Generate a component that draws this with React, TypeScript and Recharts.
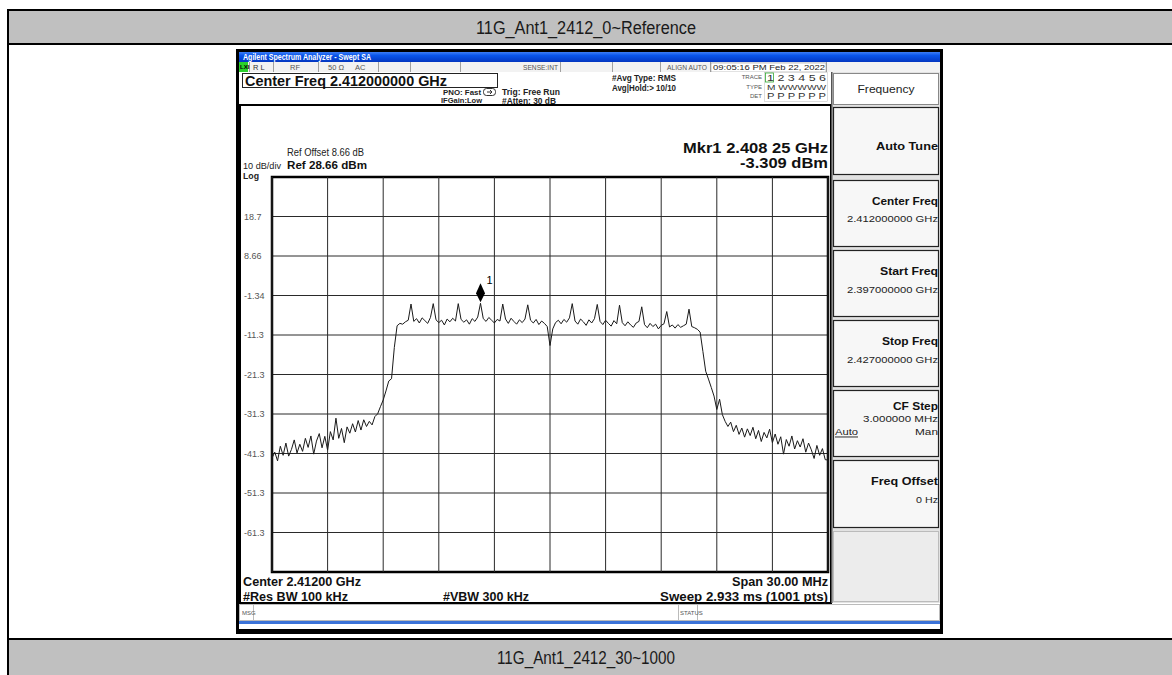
import React from 'react';
import { LineChart, Line, XAxis, YAxis, CartesianGrid, ReferenceDot, ReferenceArea, ReferenceLine } from 'recharts';

const sweepStartMHz = 2397;
const sweepStepMHz = 0.15;

const traceDbm = [
  -42.5, -41.0, -43.2, -39.5, -41.8, -38.7, -42.0, -40.3, -37.9, -41.2,
  -39.0, -40.8, -37.5, -39.8, -36.9, -41.5, -38.2, -36.3, -39.9, -37.0,
  -40.5, -35.8, -37.9, -32.4, -37.5, -35.0, -38.6, -34.6, -36.2, -33.8,
  -35.9, -33.0, -35.4, -32.8, -34.5, -33.2, -34.1, -32.0, -31.3, -29.5,
  -27.8, -25.5, -23.0, -22.4, -14.5, -9.0, -8.4, -8.6, -8.0, -7.6,
  -3.5, -7.9, -7.2, -8.3, -7.0, -7.7, -8.4, -6.9, -3.4, -7.5,
  -8.2, -7.6, -8.8, -7.3, -8.0, -7.1, -7.8, -3.4, -7.4, -8.1,
  -7.5, -8.6, -7.2, -7.9, -6.8, -3.309, -7.2, -7.9, -6.9, -7.6,
  -8.3, -7.4, -7.8, -3.5, -7.3, -8.4, -7.1, -7.9, -8.6, -7.5,
  -8.2, -7.3, -3.7, -7.6, -8.3, -7.4, -8.7, -7.8, -8.4, -9.2,
  -14.0, -9.8, -8.2, -7.6, -8.5, -7.4, -8.1, -7.0, -3.4, -7.8,
  -8.6, -7.3, -8.0, -8.9, -7.5, -8.3, -7.2, -3.6, -7.9, -8.7,
  -7.6, -8.4, -9.1, -7.7, -8.5, -3.8, -8.2, -9.0, -8.0, -8.8,
  -9.4, -8.3, -7.9, -4.2, -8.7, -9.5, -8.4, -9.2, -8.6, -9.8,
  -8.9, -8.5, -5.4, -9.3, -8.8, -9.6, -8.7, -9.4, -9.0, -8.6,
  -4.8, -9.2, -9.5, -9.9, -10.6, -15.5, -20.5, -22.5, -24.6, -26.8,
  -30.2, -27.6, -31.5, -33.2, -34.5, -33.4, -35.8, -34.2, -36.5, -34.9,
  -37.2, -35.1, -36.8, -34.7, -37.6, -35.5, -38.3, -36.0, -37.4, -35.2,
  -38.6, -36.4, -39.0, -37.1, -41.5, -37.8, -39.5, -36.9, -40.2, -38.1,
  -39.7, -37.6, -41.0, -38.7, -40.4, -42.6, -39.3, -41.8, -40.1, -42.9,
  -43.0,
];

const xTicksMHz = [2397, 2400, 2403, 2406, 2409, 2412, 2415, 2418, 2421, 2424, 2427];
const yTicksDbm = [28.66, 18.66, 8.66, -1.34, -11.34, -21.34, -31.34, -41.34, -51.34, -61.34, -71.34];
const yTickLabels = ['', '18.7', '8.66', '-1.34', '-11.3', '-21.3', '-31.3', '-41.3', '-51.3', '-61.3', ''];
const markerFreqMHz = 2408.25;
const markerDbm = -3.309;

const chartData = traceDbm.map((v, i) => ({
  f: Math.round((sweepStartMHz + i * sweepStepMHz) * 100) / 100,
  v,
}));

const FONT = '"Liberation Sans", Arial, Helvetica, sans-serif';

type TP = {
  x: number; y: number; s: number; w?: number; b?: boolean;
  a?: 'start' | 'middle' | 'end'; c?: string; u?: boolean; children: React.ReactNode;
};
const Tx = ({ x, y, s, w, b, a = 'start', c = '#111', u, children }: TP) => (
  <text
    x={x}
    y={y}
    fontSize={s}
    fontWeight={b ? 'bold' : 'normal'}
    textAnchor={a}
    fill={c}
    dominantBaseline="central"
    textLength={w}
    lengthAdjust={w ? 'spacingAndGlyphs' : undefined}
    textDecoration={u ? 'underline' : undefined}
    fontFamily={FONT}
  >
    {children}
  </text>
);

const YTick = (props: any) => {
  const { y, payload } = props;
  const idx = yTicksDbm.indexOf(payload.value);
  const label = idx >= 0 ? yTickLabels[idx] : '';
  return (
    <text x={4} y={y} dominantBaseline="central" fontSize={9} fill="#555" fontFamily={FONT}>
      {label}
    </text>
  );
};

const MarkerShape = (p: any) => {
  const { cx, cy } = p;
  if (cx == null || cy == null) return null;
  return (
    <g>
      <path d={`M${cx},${cy - 20} L${cx + 4.5},${cy - 10} L${cx},${cy - 1} L${cx - 4.5},${cy - 10} Z`} fill="#000" stroke="none" />
      <text x={cx + 6} y={cy - 19} fontSize={11} fill="#000" stroke="none" fontFamily={FONT}>1</text>
    </g>
  );
};

const buttons = [
  { top: 107, h: 67 },
  { top: 180, h: 66 },
  { top: 250, h: 66 },
  { top: 320, h: 66 },
  { top: 390, h: 66 },
  { top: 460, h: 67 },
];

const Frame = () => (
  <svg width={1172} height={675} style={{ position: 'absolute', left: 0, top: 0 }}>
    <defs>
      <linearGradient id="tb" x1="0" y1="0" x2="0" y2="1">
        <stop offset="0" stopColor="#3d7df5" />
        <stop offset="0.35" stopColor="#0a55ea" />
        <stop offset="1" stopColor="#0336c0" />
      </linearGradient>
    </defs>
    <rect x={0} y={0} width={1172} height={675} fill="#fff" />
    {/* table */}
    <rect x={9} y={11} width={1163} height={33} fill="#c0c0c0" />
    <rect x={7} y={9} width={1165} height={2} fill="#000" />
    <rect x={7} y={43} width={1165} height={2} fill="#000" />
    <rect x={7} y={9} width={2} height={666} fill="#000" />
    <rect x={9} y={640} width={1163} height={35} fill="#c0c0c0" />
    <rect x={7} y={638} width={1165} height={2} fill="#000" />

    {/* window */}
    <rect x={236} y={49} width={707} height={585} fill="#000" />
    <rect x={239} y={52} width={701} height={10} fill="url(#tb)" />
    <rect x={239} y={62} width={701} height={10} fill="#f2f2f2" />
    {[249, 273, 318, 378, 410, 460, 560, 612, 660, 710, 826].map((x) => (
      <rect key={x} x={x} y={62} width={1} height={10} fill="#a0a0a0" />
    ))}
    <rect x={239} y={62} width={9} height={10} fill="#2bd02b" />
    <rect x={711} y={63} width={115} height={9} fill="#fff" stroke="#888" strokeWidth={0.5} />
    <rect x={239} y={72} width={701} height={548} fill="#fff" />
    {/* center freq box */}
    <rect x={242.5} y={73.5} width={255} height={14} fill="#fff" stroke="#222" strokeWidth={1} />
    {/* trace box */}
    <rect x={764.5} y={72.5} width={63} height={29} fill="#fff" stroke="#bbb" strokeWidth={0.5} />
    <rect x={765.5} y={73} width={8} height={9} fill="none" stroke="#3a3" strokeWidth={0.8} />
    {/* PNO icon */}
    <rect x={483.5} y={88.5} width={12} height={7} rx={3} fill="none" stroke="#333" strokeWidth={1} />
    <path d="M487,92 L492,92 M490,90 L492,92 L490,94" stroke="#333" strokeWidth={1} fill="none" />
    {/* display */}
    <rect x={240} y={105} width={591} height={498} fill="#fff" stroke="#000" strokeWidth={2} />
    {/* right panel */}
    <rect x={831} y={72} width={109} height={531} fill="#e2e2e2" />
    <rect x={831} y={72} width={1.5} height={531} fill="#555" />
    <rect x={833.5} y={73.5} width={105} height={31} fill="#fff" stroke="#888" strokeWidth={1} />
    {buttons.map((b, i) => (
      <rect key={i} x={833.5} y={b.top + 0.5} width={105} height={b.h} fill="#f7f7f7" stroke="#222" strokeWidth={1.2} />
    ))}
    <rect x={833.5} y={531.5} width={105} height={70} fill="#ececec" stroke="#bbb" strokeWidth={1} />
    {/* msg row */}
    <rect x={239.5} y={604.5} width={700} height={16} fill="#fff" stroke="#bbb" strokeWidth={1} />
    <rect x={253} y={605} width={1} height={15} fill="#bbb" />
    <rect x={678} y={605} width={1} height={15} fill="#bbb" />
    <rect x={697} y={605} width={1} height={15} fill="#bbb" />
    <rect x={239} y={621} width={701} height={3} fill="#3b73d8" />
    <rect x={239} y={624} width={701} height={5} fill="#fff" />

    {/* header texts */}
    <Tx x={586} y={28} s={18} w={220} a="middle" c="#1a1a1a">11G_Ant1_2412_0~Reference</Tx>
    <Tx x={586} y={658} s={18} w={178} a="middle" c="#1a1a1a">11G_Ant1_2412_30~1000</Tx>

    {/* title bar */}
    <Tx x={243} y={57} s={8.5} w={128} b c="#fff">Agilent Spectrum Analyzer - Swept SA</Tx>

    {/* status row */}
    <Tx x={240} y={67} s={6} b c="#000">LXI</Tx>
    <Tx x={253} y={67} s={7.5} c="#333">R L</Tx>
    <Tx x={290} y={67} s={7.5} c="#555">RF</Tx>
    <Tx x={328} y={67} s={7.5} c="#555">50 Ω</Tx>
    <Tx x={355} y={67} s={7.5} c="#555">AC</Tx>
    <Tx x={523} y={67} s={7.5} w={35} c="#555">SENSE:INT</Tx>
    <Tx x={667} y={67} s={7.5} w={40} c="#555">ALIGN AUTO</Tx>
    <Tx x={713} y={67.5} s={8} w={112} c="#222">09:05:16 PM Feb 22, 2022</Tx>

    {/* info area */}
    <Tx x={245} y={81} s={14.5} w={202} b c="#111">Center Freq 2.412000000 GHz</Tx>
    <Tx x={443} y={92} s={8} w={38} b c="#222">PNO: Fast</Tx>
    <Tx x={441} y={100} s={8} w={41} b c="#222">IFGain:Low</Tx>
    <Tx x={502} y={92} s={9} w={58} b c="#222">Trig: Free Run</Tx>
    <Tx x={502} y={100.5} s={8.5} w={54} b c="#222">#Atten: 30 dB</Tx>
    <Tx x={612} y={78} s={9} w={64} b c="#222">#Avg Type: RMS</Tx>
    <Tx x={612} y={88} s={9} w={64} b c="#222">Avg|Hold:&gt; 10/10</Tx>
    <Tx x={762} y={77} s={6} a="end" c="#555">TRACE</Tx>
    <Tx x={767} y={77.5} s={8.5} w={59} c="#333">1 2 3 4 5 6</Tx>
    <Tx x={762} y={87} s={6} a="end" c="#555">TYPE</Tx>
    <Tx x={767} y={87} s={8} w={59} c="#333">M WWWWW</Tx>
    <Tx x={762} y={96} s={6} a="end" c="#555">DET</Tx>
    <Tx x={767} y={96} s={8.5} w={59} c="#333">P P P P P P</Tx>

    {/* display texts */}
    <Tx x={287} y={152} s={10} w={77} c="#222">Ref Offset 8.66 dB</Tx>
    <Tx x={287} y={165} s={11.5} w={80} b c="#111">Ref 28.66 dBm</Tx>
    <Tx x={243} y={166} s={9} w={38} c="#222">10 dB/div</Tx>
    <Tx x={243} y={175.5} s={9} w={16} b c="#222">Log</Tx>
    <Tx x={828} y={147} s={15} w={145} a="end" b c="#111">Mkr1 2.408 25 GHz</Tx>
    <Tx x={828} y={162} s={15} w={88} a="end" b c="#111">-3.309 dBm</Tx>
    <Tx x={243} y={582} s={12} w={118} b c="#111">Center 2.41200 GHz</Tx>
    <Tx x={828} y={582} s={12} w={96} a="end" b c="#111">Span 30.00 MHz</Tx>
    <Tx x={243} y={597} s={12} w={105} b c="#111">#Res BW 100 kHz</Tx>
    <Tx x={443} y={597} s={12} w={86} b c="#111">#VBW 300 kHz</Tx>
    <Tx x={828} y={597} s={12} w={168} a="end" b c="#111">Sweep  2.933 ms (1001 pts)</Tx>

    {/* msg row */}
    <Tx x={242} y={612.5} s={6} c="#555">MSG</Tx>
    <Tx x={680} y={612.5} s={6} c="#555">STATUS</Tx>

    {/* right panel */}
    <Tx x={886} y={89} s={10} w={57} a="middle" c="#222">Frequency</Tx>
    <Tx x={938} y={146} s={11.5} w={62} a="end" b c="#111">Auto Tune</Tx>
    <Tx x={938} y={201} s={11.5} w={66} a="end" b c="#111">Center Freq</Tx>
    <Tx x={938} y={218} s={9.5} w={91} a="end" c="#222">2.412000000 GHz</Tx>
    <Tx x={938} y={271} s={11.5} w={58} a="end" b c="#111">Start Freq</Tx>
    <Tx x={938} y={289} s={9.5} w={91} a="end" c="#222">2.397000000 GHz</Tx>
    <Tx x={938} y={341} s={11.5} w={56} a="end" b c="#111">Stop Freq</Tx>
    <Tx x={938} y={359} s={9.5} w={91} a="end" c="#222">2.427000000 GHz</Tx>
    <Tx x={938} y={406} s={11.5} w={45} a="end" b c="#111">CF Step</Tx>
    <Tx x={938} y={418} s={9.5} w={75} a="end" c="#222">3.000000 MHz</Tx>
    <Tx x={835} y={431} s={9.5} w={23} u c="#222">Auto</Tx>
    <Tx x={938} y={431} s={9.5} w={23} a="end" c="#222">Man</Tx>
    <Tx x={938} y={481} s={11.5} w={67} a="end" b c="#111">Freq Offset</Tx>
    <Tx x={938} y={499} s={9.5} w={22} a="end" c="#222">0 Hz</Tx>
  </svg>
);

export default function App() {
  return (
    <div style={{ position: 'absolute', left: 0, top: 0, width: 1172, height: 675, overflow: 'hidden', background: '#fff' }}>
      <Frame />
      <div style={{ position: 'absolute', left: 240, top: 170 }}>
        <LineChart
          width={592}
          height={410}
          data={chartData}
          margin={{ top: 7, right: 4, bottom: 8, left: 0 }}
        >
          <CartesianGrid stroke="#2a2a2a" strokeWidth={1} vertical={false} />
          <XAxis
            dataKey="f"
            type="number"
            domain={[2397, 2427]}
            ticks={xTicksMHz}
            interval={0}
            tick={false}
            tickLine={false}
            axisLine={false}
            height={0}
            allowDataOverflow
          />
          <YAxis
            type="number"
            domain={[-71.34, 28.66]}
            ticks={yTicksDbm}
            tick={<YTick />}
            tickLine={false}
            axisLine={false}
            width={32}
            interval={0}
            allowDataOverflow
          />
          {xTicksMHz.map((x) => (
            <ReferenceLine key={x} x={x} stroke="#2a2a2a" strokeWidth={1} ifOverflow="visible" />
          ))}
          <ReferenceArea
            x1={2397}
            x2={2427}
            y1={-71.34}
            y2={28.66}
            fill="none"
            fillOpacity={0}
            stroke="#000"
            strokeWidth={2.5}
            ifOverflow="visible"
          />
          <Line
            type="linear"
            dataKey="v"
            stroke="#1a1a1a"
            strokeWidth={1}
            dot={false}
            isAnimationActive={false}
          />
          <ReferenceDot
            x={markerFreqMHz}
            y={markerDbm}
            ifOverflow="visible"
            shape={MarkerShape}
          />
        </LineChart>
      </div>
    </div>
  );
}
